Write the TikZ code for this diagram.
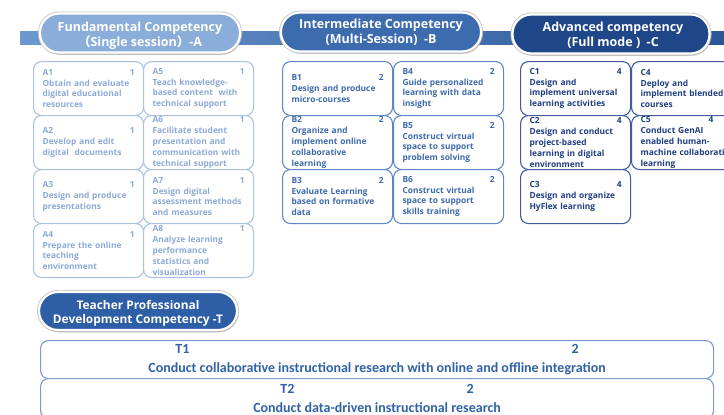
\documentclass[tikz,border=0pt]{standalone}
\usepackage{fontspec}
\setmainfont{Open Sans}
\newfontfamily\condfont{Carlito}
\newfontfamily\cjkfont{Noto Sans CJK SC}
\usetikzlibrary{shadows}
\hyphenpenalty=10000
\exhyphenpenalty=10000
\definecolor{pillA}{HTML}{8AAED9}
\definecolor{textA}{HTML}{8DAAD6}
\definecolor{lineA}{HTML}{A9C2E4}
\definecolor{pillB}{HTML}{3D6CAE}
\definecolor{textB}{HTML}{3E6AAD}
\definecolor{lineB}{HTML}{5F88C2}
\definecolor{pillC}{HTML}{1F4688}
\definecolor{textC}{HTML}{1F3E84}
\definecolor{lineC}{HTML}{3D5E9B}
\definecolor{pillT}{HTML}{2E5EA6}
\definecolor{textT}{HTML}{2F62A8}
\definecolor{lineT}{HTML}{7A9CCB}
\definecolor{barL}{HTML}{6A98CF}
\definecolor{barR}{HTML}{2A5597}
\begin{document}
\begin{tikzpicture}[x=1pt,y=-1pt]
				\tikzstyle{Pill} = [rectangle, rounded corners=19pt, minimum width=200, minimum height=39, draw=white, line width=2.2pt, inner sep=0pt, preaction={draw=black!22, line width=4pt}, drop shadow={shadow xshift=1.5pt, shadow yshift=-2.5pt, opacity=0.25}]
				\tikzstyle{Title} = [text=white, align=center, inner sep=0pt, font=\bfseries\fontsize{12.5}{15}\selectfont]
				\tikzstyle{Cell} = [rectangle, rounded corners=8pt, fill=white, line width=1.1pt, minimum height=54, text width=92, inner xsep=9, inner ysep=0, align=left, anchor=north west, font=\bfseries\fontsize{8.4}{10.8}\selectfont]
				\tikzstyle{CellA} = [Cell, draw=lineA, text=textA]
				\tikzstyle{CellB} = [Cell, draw=lineB, text=textB]
				\tikzstyle{CellC} = [Cell, draw=lineC, text=textC]
				\tikzstyle{Row} = [rectangle, rounded corners=8pt, fill=white, draw=lineT, line width=1.1pt, minimum width=673, align=center, anchor=north west, text=textT, font=\condfont\bfseries\fontsize{14}{18.5}\selectfont]
				\path[use as bounding box, clip] (0,0) rectangle (724,415);
				\fill[white] (0,0) rectangle (724,415);
				\shade[left color=barL, right color=barR] (20,31) rectangle (724,44);
				\node (pa) at (140,33) [Pill, fill=pillA] {};
				\node (pb) at (381,32) [Pill, fill=pillB] {};
				\node (pc) at (611,34) [Pill, fill=pillC, minimum width=197] {};
				\node (pat) at (140,35.5) [Title] {Fundamental Competency\\{\cjkfont （}Single session{\cjkfont ）}-A};
				\node (pbt) at (381,32) [Title] {Intermediate Competency\\(Multi-Session)\ \ -B};
				\node (pct) at (613,35) [Title] {Advanced competency\\(Full mode )\ \ -C};
				\node (a1) at (33,61) [CellA] {A1\hfill 1\\Obtain and evaluate\\digital educational\\resources};
				\node (a2) at (33,115) [CellA] {A2\hfill 1\\Develop and edit\\digital\ \ documents};
				\node (a3) at (33,169) [CellA] {A3\hfill 1\\Design and produce\\presentations};
				\node (a4) at (33,223) [CellA] {A4\hfill 1\\Prepare the online\\teaching\\environment};
				\node (a5) at (143,61) [CellA] {A5\hfill 1\\Teach knowledge-\\based content\ \ with\\technical support};
				\node (a6) at (143,115) [CellA] {A6\hfill 1\\Facilitate student\\presentation and\\communication with\\technical support};
				\node (a7) at (143,169) [CellA] {A7\hfill 1\\Design digital\\assessment methods\\and measures};
				\node (a8) at (143,223) [CellA] {A8\hfill 1\\Analyze learning\\performance\\statistics and\\visualization};
				\node (b1) at (282,61) [CellB] {B1\hfill 2\\Design and produce\\micro-courses};
				\node (b2) at (282,115) [CellB] {B2\hfill 2\\Organize and\\implement online\\collaborative\\learning};
				\node (b3) at (282,169) [CellB] {B3\hfill 2\\Evaluate Learning\\based on formative\\data};
				\node (b4) at (393,61) [CellB] {B4\hfill 2\\Guide personalized\\learning with data\\insight};
				\node (b5) at (393,115) [CellB] {B5\hfill 2\\Construct virtual\\space to support\\problem solving};
				\node (b6) at (393,169) [CellB] {B6\hfill 2\\Construct virtual\\space to support\\skills training};
				\node (c1) at (520,61) [CellC] {C1\hfill 4\\Design and\\implement universal\\learning activities};
				\node (c2) at (520,115) [CellC] {C2\hfill 4\\Design and conduct\\project-based\\learning in digital\\environment};
				\node (c3) at (520,169) [CellC] {C3\hfill 4\\Design and organize\\HyFlex learning};
				\node (c4) at (631,61) [CellC] {C4\hfill 4\\Deploy and\\implement blended\\courses};
				\node (c5) at (631,115) [CellC] {C5\hspace{58pt}4\\Conduct GenAI\\enabled human-\\\mbox{machine collaborative}\\learning};
				\node (pt) at (138,311) [Pill, fill=pillT, minimum width=198, minimum height=38] {};
				\node (ptt) at (138,313) [Title, font=\bfseries\fontsize{11.9}{14}\selectfont] {Teacher Professional\\Development Competency -T};
				\node (t1) at (40,340) [Row, minimum height=38] {T1\hspace{382pt}2\\Conduct collaborative instructional research with online and offline integration};
				\node (t2) at (40,378) [Row, minimum height=40] {T2\hspace{172pt}2\\Conduct data-driven instructional research};
			\end{tikzpicture}
\end{document}
